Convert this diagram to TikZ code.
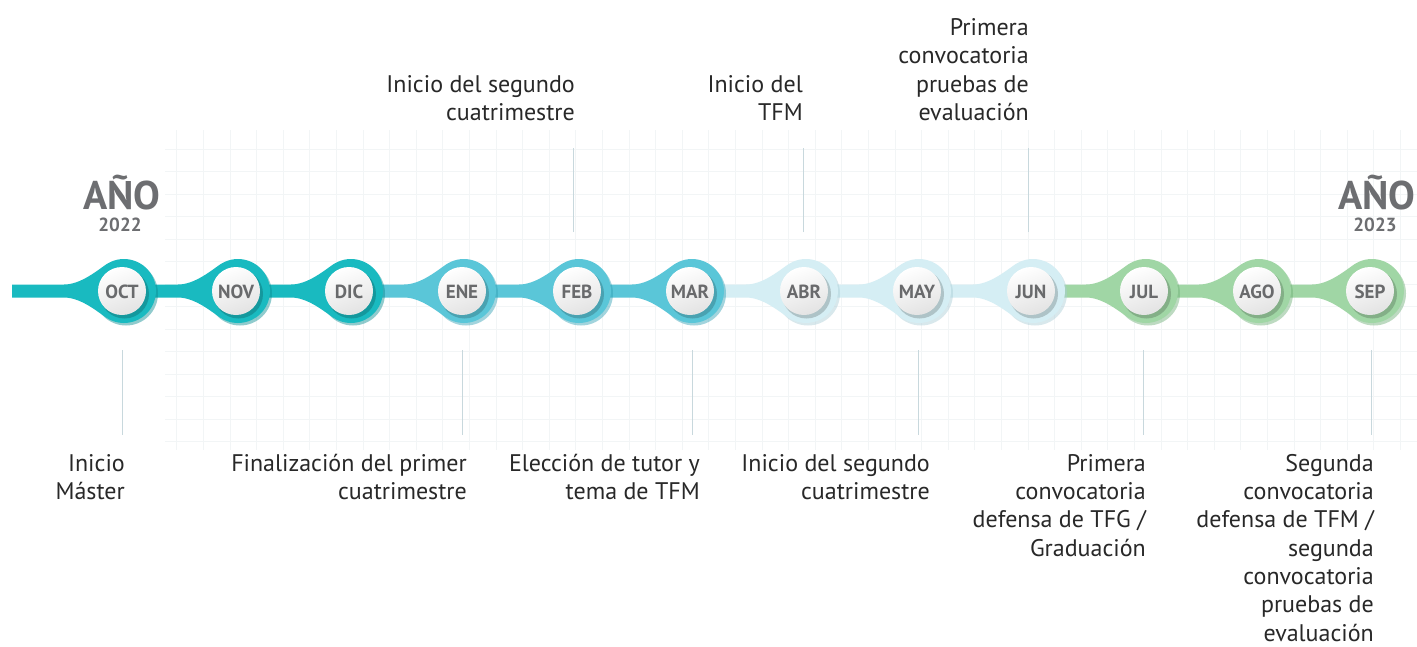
\documentclass[tikz,border=0pt]{standalone}
\usepackage{fontspec}
\setmainfont{PT Sans}
\definecolor{cA}{RGB}{25,186,192}
\definecolor{cAd}{RGB}{10,140,146}
\definecolor{cB}{RGB}{90,198,216}
\definecolor{cBd}{RGB}{50,160,180}
\definecolor{cC}{RGB}{213,238,244}
\definecolor{cCd}{RGB}{170,205,215}
\definecolor{cD}{RGB}{160,214,165}
\definecolor{cDd}{RGB}{110,175,118}
\definecolor{txt}{RGB}{40,40,40}
\definecolor{mon}{RGB}{105,106,108}
\definecolor{yr}{RGB}{109,110,113}
\definecolor{vline}{RGB}{200,216,221}
\definecolor{gridc}{RGB}{242,245,246}
\newcommand\tlpin[4]{%
  \fill[#4,opacity=.45] ({#2+2},293.5) circle (32);
  \fill[#3] (#1,284.5) -- ({#2-60},284.5)
    .. controls ({#2-44},284.5) and ({#2-28.2},271.7) .. ({#2-18.4},264.8)
    arc[start angle=-125,end angle=125,radius=32]
    .. controls ({#2-28.2},310.3) and ({#2-44},297.5) .. ({#2-60},297.5)
    -- (#1,297.5) -- cycle;
}
\tikzset{
  mlabel/.style={font=\fontsize{19}{20}\selectfont\bfseries, text=mon, inner sep=0pt},
  evlabel/.style={font=\fontsize{24}{28.3}\selectfont, text=txt, align=right, inner sep=0pt},
  conn/.style={draw=vline, line width=0.9pt},
  yrbig/.style={font=\fontsize{40}{42}\selectfont\bfseries, text=yr, inner sep=0pt},
  yrsmall/.style={font=\fontsize{19}{20}\selectfont\bfseries, text=yr, inner sep=0pt},
}
\begin{document}
\begin{tikzpicture}[x=1pt,y=-1pt]
\useasboundingbox (0,0) rectangle (1417,646);
\fill[white] (0,0) rectangle (1417,646);
% faint grid
\foreach \gx in {176.6,203.2,...,1417} \draw[gridc,line width=0.6pt] (\gx,130) -- (\gx,450);
\foreach \gy in {149,171.5,...,452} \draw[gridc,line width=0.6pt] (165,\gy) -- (1417,\gy);
% pins, right to left
\tlpin{1259}{1372}{cD}{cDd}
\tlpin{1146}{1259}{cD}{cDd}
\tlpin{1033}{1146}{cD}{cDd}
\tlpin{919}{1033}{cC}{cCd}
\tlpin{806}{919}{cC}{cCd}
\tlpin{692}{806}{cC}{cCd}
\tlpin{579}{692}{cB}{cBd}
\tlpin{464}{579}{cB}{cBd}
\tlpin{351}{464}{cB}{cBd}
\tlpin{238}{351}{cA}{cAd}
\tlpin{124}{238}{cA}{cAd}
\tlpin{12}{124}{cA}{cAd}
% inner circles
\foreach \m/\x in {oct/122,nov/236,dic/349,ene/462,feb/577,mar/690,abr/804,may/917,jun/1031,jul/1144,ago/1257,sep/1370}{
  \fill[black,opacity=.18] (\x+2.5,294) circle (24.5);
  \shade[top color=white,bottom color=black!11,shading angle=20] (\x,291) circle (24);
}
\node[mlabel] (oct) at (122,291.5) {OCT};
\node[mlabel] (nov) at (236,291.5) {NOV};
\node[mlabel] (dic) at (349,291.5) {DIC};
\node[mlabel] (ene) at (462,291.5) {ENE};
\node[mlabel] (feb) at (577,291.5) {FEB};
\node[mlabel] (mar) at (690,291.5) {MAR};
\node[mlabel] (abr) at (804,291.5) {ABR};
\node[mlabel] (may) at (917,291.5) {MAY};
\node[mlabel] (jun) at (1031,291.5) {JUN};
\node[mlabel] (jul) at (1144,291.5) {JUL};
\node[mlabel] (ago) at (1257,291.5) {AGO};
\node[mlabel] (sep) at (1370,291.5) {SEP};
% years
\node[yrbig,anchor=base] (ano1) at (122,209) {AÑO};
\node[yrsmall,anchor=base] (y1) at (120,231) {2022};
\node[yrbig,anchor=base] (ano2) at (1377,209) {AÑO};
\node[yrsmall,anchor=base] (y2) at (1375,231) {2023};
% connector end points
\coordinate (b1) at (122,350); \coordinate (b1e) at (122,435);
\coordinate (b2) at (462,350); \coordinate (b2e) at (462,435);
\coordinate (b3) at (692,350); \coordinate (b3e) at (692,435);
\coordinate (b4) at (918,350); \coordinate (b4e) at (918,435);
\coordinate (b5) at (1143,350); \coordinate (b5e) at (1143,435);
\coordinate (b6) at (1371,350); \coordinate (b6e) at (1371,435);
\coordinate (t1) at (573,232); \coordinate (t1e) at (573,148);
\coordinate (t2) at (803,232); \coordinate (t2e) at (803,148);
\coordinate (t3) at (1028,232); \coordinate (t3e) at (1028,148);
\foreach \a in {b1,b2,b3,b4,b5,b6,t1,t2,t3} \draw[conn] (\a) -- (\a e);
% event labels
\node[evlabel,anchor=north east] (e1) at (125,454) {Inicio\\Máster};
\node[evlabel,anchor=north east] (e2) at (467,454) {Finalización del primer\\cuatrimestre};
\node[evlabel,anchor=north east] (e3) at (700,454) {Elección de tutor y\\tema de TFM};
\node[evlabel,anchor=north east] (e4) at (930,454) {Inicio del segundo\\cuatrimestre};
\node[evlabel,anchor=north east] (e5) at (1146,454) {Primera\\convocatoria\\defensa de TFG /\\Graduación};
\node[evlabel,anchor=north east] (e6) at (1374,454) {Segunda\\convocatoria\\defensa de TFM /\\segunda\\convocatoria\\pruebas de\\evaluación};
\node[evlabel,anchor=south east] (e7) at (575,121) {Inicio del segundo\\cuatrimestre};
\node[evlabel,anchor=south east] (e8) at (803,121) {Inicio del\\TFM};
\node[evlabel,anchor=south east] (e9) at (1029,121) {Primera\\convocatoria\\pruebas de\\evaluación};
\end{tikzpicture}
\end{document}
